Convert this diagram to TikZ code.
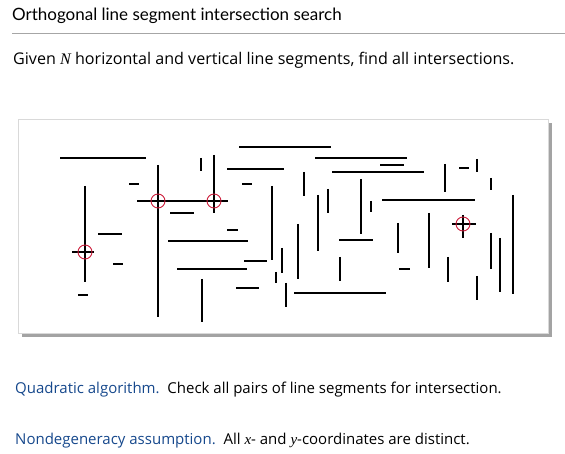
\documentclass[tikz,border=0pt]{standalone}
\usepackage{fontspec}
\setmainfont{Open Sans}
\newfontfamily\headfont{Lato}
\newfontfamily\varfont{Liberation Serif}
\usepackage{tikz}
\usetikzlibrary{shadows}
\definecolor{termblue}{RGB}{22,72,140}
\definecolor{hitred}{RGB}{205,30,60}

\begin{document}
\begin{tikzpicture}[x=1pt, y=-1pt,
    txt/.style={anchor=base west, inner sep=0pt, font=\fontsize{15}{18}\selectfont},
    seg/.style={line width=2pt},
    hit/.style={draw=hitred, line width=0.9pt, circle, minimum size=14pt, inner sep=0pt},
    panel/.style={draw=gray!30, fill=white, line width=0.6pt,
        drop shadow={shadow xshift=3.5pt, shadow yshift=-3.5pt, fill=gray!80, opacity=0.9}}
]
    \useasboundingbox (0,0) rectangle (565,454);
    % heading
    \node[txt, font=\headfont\fontsize{17}{20}\selectfont] (title) at (12,21) {Orthogonal line segment intersection search};
    \draw[gray!70, line width=0.8pt] (12,33) -- (565,33);
    \node[txt, font=\fontsize{16.1}{19}\selectfont] (given) at (13,65) {Given {\varfont\itshape N} horizontal and vertical line segments, find all intersections.};

    % panel with the segments
    \node[panel, anchor=north west, minimum width=530pt, minimum height=214pt, inner sep=0pt] (pane) at (18,119) {};

    % horizontal segments: y, x1, x2
    \foreach \y/\a/\b in {158/60/146, 184/129/139, 201/137/228, 213/170/194, 147/239/331,
        169/227/284, 158/315/407, 165/380/404, 172/332/424, 184/242/252, 230/227/238,
        168/459/469, 200/382/475, 224/452/476, 293/294/386, 241/168/248, 261/244/267,
        269/177/247, 288/236/259, 240/339/373, 269/399/410, 234/98/122, 252/72/94,
        264/113/123, 295/78/88}
        \draw[seg] (\a,\y) -- (\b,\y);

    % vertical segments: x, y1, y2
    \foreach \x/\a/\b in {85/186/282, 158/165/317, 201/158/171, 214/155/213, 272/186/260,
        304/172/196, 318/195/251, 328/189/213, 361/179/234, 371/201/212, 298/224/279,
        445/164/192, 477/159/172, 491/178/190, 513/195/294, 429/213/268, 398/223/253,
        463/215/238, 448/257/282, 477/276/300, 491/233/269, 500/238/292, 282/248/273,
        276/272/283, 202/279/322, 286/283/307, 340/257/281}
        \draw[seg] (\x,\a) -- (\x,\b);

    % intersections found
    \node[hit] (h1) at (158,201) {};
    \node[hit] (h2) at (214,201) {};
    \node[hit] (h3) at (85,252) {};
    \node[hit] (h4) at (463,224) {};

    % notes below
    \node[txt] (quad) at (15,393) {\textcolor{termblue}{Quadratic algorithm.}\ \ Check all pairs of line segments for intersection.};
    \node[txt] (nondeg) at (15,444) {\textcolor{termblue}{Nondegeneracy assumption.}\ \ All {\varfont\itshape x}- and {\varfont\itshape y}-coordinates are distinct.};
\end{tikzpicture}
\end{document}
